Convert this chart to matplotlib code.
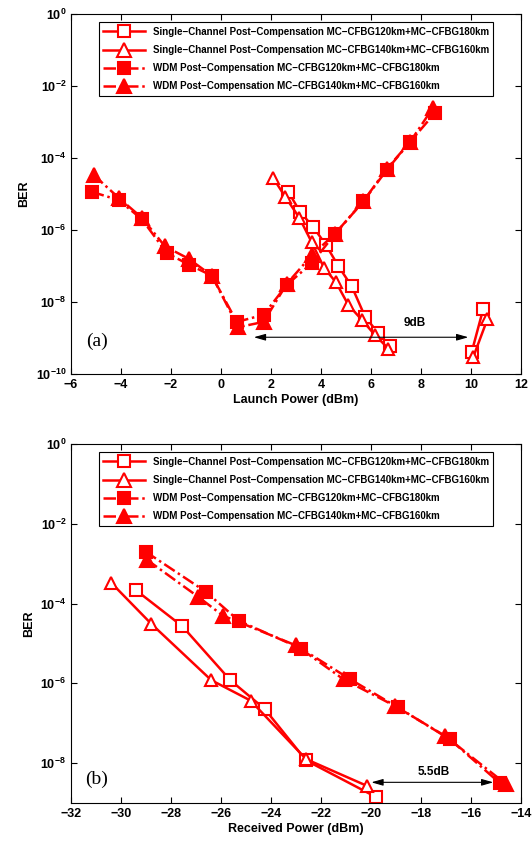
import numpy as np
import matplotlib
matplotlib.use("Agg")
import matplotlib.pyplot as plt
from matplotlib.ticker import FixedLocator, NullLocator

plt.rcParams['font.family'] = ['Liberation Sans', 'DejaVu Sans']
plt.rcParams['font.weight'] = 'bold'
plt.rcParams['mathtext.fontset'] = 'custom'
plt.rcParams['mathtext.rm'] = 'Liberation Sans:bold'
plt.rcParams['mathtext.bf'] = 'Liberation Sans:bold'

###############################################################################
# data (a) launch power  (nan = gap in the measured curve)

sc120_x = [2.69, 3.16, 3.69, 4.2, 4.69, 5.23, 5.76, 6.29, 6.76, np.nan, 10.03, 10.49]
sc120_y = [1.15e-5, 3.2e-6, 1.2e-6, 3.8e-7, 1.0e-7, 2.7e-8, 3.9e-9, 1.35e-9, 6.0e-10, np.nan, 4.2e-10, 6.6e-9]
sc140_x = [2.09, 2.56, 3.13, 3.63, 4.12, 4.6, 5.09, 5.63, 6.16, 6.69, np.nan, 10.09, 10.65]
sc140_y = [2.75e-5, 8.5e-6, 2.2e-6, 4.5e-7, 8.9e-8, 3.5e-8, 8.3e-9, 3.2e-9, 1.2e-9, 5.1e-10, np.nan, 3.0e-10, 3.3e-9]
wdm120_x = [-5.17, -4.1, -3.17, -2.17, -1.3, -0.37, 0.63, 1.7, 2.63, 3.63, 4.56, 5.69, 6.63, 7.56, 8.56]
wdm120_y = [1.15e-5, 6.8e-6, 2.0e-6, 2.3e-7, 1.1e-7, 5.4e-8, 2.8e-9, 4.4e-9, 3.0e-8, 1.2e-7, 7.8e-7, 6.2e-6, 4.7e-5, 2.8e-4, 1.8e-3]
wdm140_x = [-5.1, -4.1, -3.17, -2.24, -1.3, -0.37, 0.69, 1.7, 2.63, 3.63, 4.56, 5.69, 6.63, 7.56, 8.48]
wdm140_y = [3.4e-5, 7.9e-6, 2.2e-6, 3.5e-7, 1.6e-7, 5.4e-8, 2.0e-9, 2.8e-9, 3.2e-8, 2.0e-7, 7.9e-7, 6.3e-6, 5.0e-5, 2.8e-4, 2.5e-3]

###############################################################################
# data (b) received power

rsc120_x = [-29.42, -27.55, -25.63, -24.26, -22.6, -19.79]
rsc120_y = [2.2e-4, 2.7e-5, 1.2e-6, 2.3e-7, 1.17e-8, 1.4e-9]
rsc140_x = [-30.39, -28.79, -26.39, -24.82, -22.6, -20.17]
rsc140_y = [3.3e-4, 3.1e-5, 1.2e-6, 3.7e-7, 1.26e-8, 2.7e-9]
rwdm120_x = [-29.02, -26.62, -25.29, -22.79, -20.83, -18.93, -16.86, -14.86]
rwdm120_y = [2.0e-3, 2.0e-4, 3.7e-5, 7.4e-6, 1.26e-6, 2.5e-7, 4.0e-8, 3.2e-9]
rwdm140_x = [-28.97, -26.93, -25.93, -23.0, -21.1, -19.04, -17.04, -14.61]
rwdm140_y = [1.26e-3, 1.5e-4, 5.0e-5, 8.9e-6, 1.26e-6, 2.7e-7, 4.8e-8, 3.0e-9]

labels = ['Single\u2212Channel Post\u2212Compensation MC\u2212CFBG120km+MC\u2212CFBG180km',
          'Single\u2212Channel Post\u2212Compensation MC\u2212CFBG140km+MC\u2212CFBG160km',
          'WDM Post\u2212Compensation MC\u2212CFBG120km+MC\u2212CFBG180km',
          'WDM Post\u2212Compensation MC\u2212CFBG140km+MC\u2212CFBG160km']

red = '#ff0000'
dashdot = (0, (5, 1.5, 1, 1.5))

def draw( ax, series) :
    styles = [dict(marker='s', mfc='white', ls='-', ms=8),
              dict(marker='^', mfc='white', ls='-', ms=9),
              dict(marker='s', mfc=red, ls=dashdot, ms=8.5),
              dict(marker='^', mfc=red, ls=dashdot, ms=9.5)]
    for (x, y), st, lab in zip(series, styles, labels):
        ax.plot(x, y, color=red, lw=1.8, mew=1.5, mec=red, label=lab, **st)
    ax.set_yscale('log')
    ax.tick_params(direction='in', top=True, right=True, labelsize=9, length=4)
    ax.yaxis.set_minor_locator(NullLocator())
    ax.set_ylabel('BER', fontsize=9, fontweight='bold')
    leg = ax.legend(loc='upper center', bbox_to_anchor=(0.5, 0.985), fontsize=7,
                    handlelength=4.3, fancybox=False, edgecolor='black',
                    framealpha=1, borderaxespad=0.3, labelspacing=0.85,
                    markerscale=1.1, borderpad=0.45)
    leg.get_frame().set_linewidth(0.8)
    for s in ax.spines.values():
        s.set_linewidth(0.8)

fig = plt.figure(figsize=(5.32, 8.42), dpi=100)

###############################################################################
# (a)
ax1 = fig.add_axes([0.1335, 0.5558, 0.846, 0.4276])
draw(ax1, [(sc120_x, sc120_y), (sc140_x, sc140_y), (wdm120_x, wdm120_y), (wdm140_x, wdm140_y)])
ax1.set_xlim(-6, 12)
ax1.set_ylim(1e-10, 1)
ax1.set_xticks(np.arange(-6, 13, 2))
ax1.yaxis.set_major_locator(FixedLocator([1e-10, 1e-8, 1e-6, 1e-4, 1e-2, 1]))
ax1.set_xlabel('Launch Power (dBm)', fontsize=9, fontweight='bold', labelpad=2)
ax1.annotate('', xy=(1.2, 1.05e-9), xytext=(10.0, 1.05e-9),
             arrowprops=dict(arrowstyle='<|-|>,head_length=0.7,head_width=0.2', color='black', lw=0.8))
ax1.text(7.75, 2.6e-9, '9dB', fontsize=8.5, fontweight='bold', ha='center', va='center')
ax1.text(-4.95, 8e-10, '(a)', fontsize=14, family=['Liberation Serif', 'DejaVu Serif'],
         fontweight='normal', ha='center', va='center')

###############################################################################
# (b)
ax2 = fig.add_axes([0.1335, 0.0463, 0.846, 0.4264])
draw(ax2, [(rsc120_x, rsc120_y), (rsc140_x, rsc140_y), (rwdm120_x, rwdm120_y), (rwdm140_x, rwdm140_y)])
ax2.set_xlim(-32, -14)
ax2.set_ylim(1e-9, 1)
ax2.set_xticks(np.arange(-32, -13, 2))
ax2.yaxis.set_major_locator(FixedLocator([1e-8, 1e-6, 1e-4, 1e-2, 1]))
ax2.set_xlabel('Received Power (dBm)', fontsize=9, fontweight='bold', labelpad=2)
ax2.annotate('', xy=(-20.1, 3.3e-9), xytext=(-15.0, 3.3e-9),
             arrowprops=dict(arrowstyle='<|-|>,head_length=0.7,head_width=0.2', color='black', lw=0.8))
ax2.text(-17.5, 5.9e-9, '5.5dB', fontsize=8.5, fontweight='bold', ha='center', va='center')
ax2.text(-30.98, 4.0e-9, '(b)', fontsize=14, family=['Liberation Serif', 'DejaVu Serif'],
         fontweight='normal', ha='center', va='center')

fig.savefig('out.png', dpi=100)
